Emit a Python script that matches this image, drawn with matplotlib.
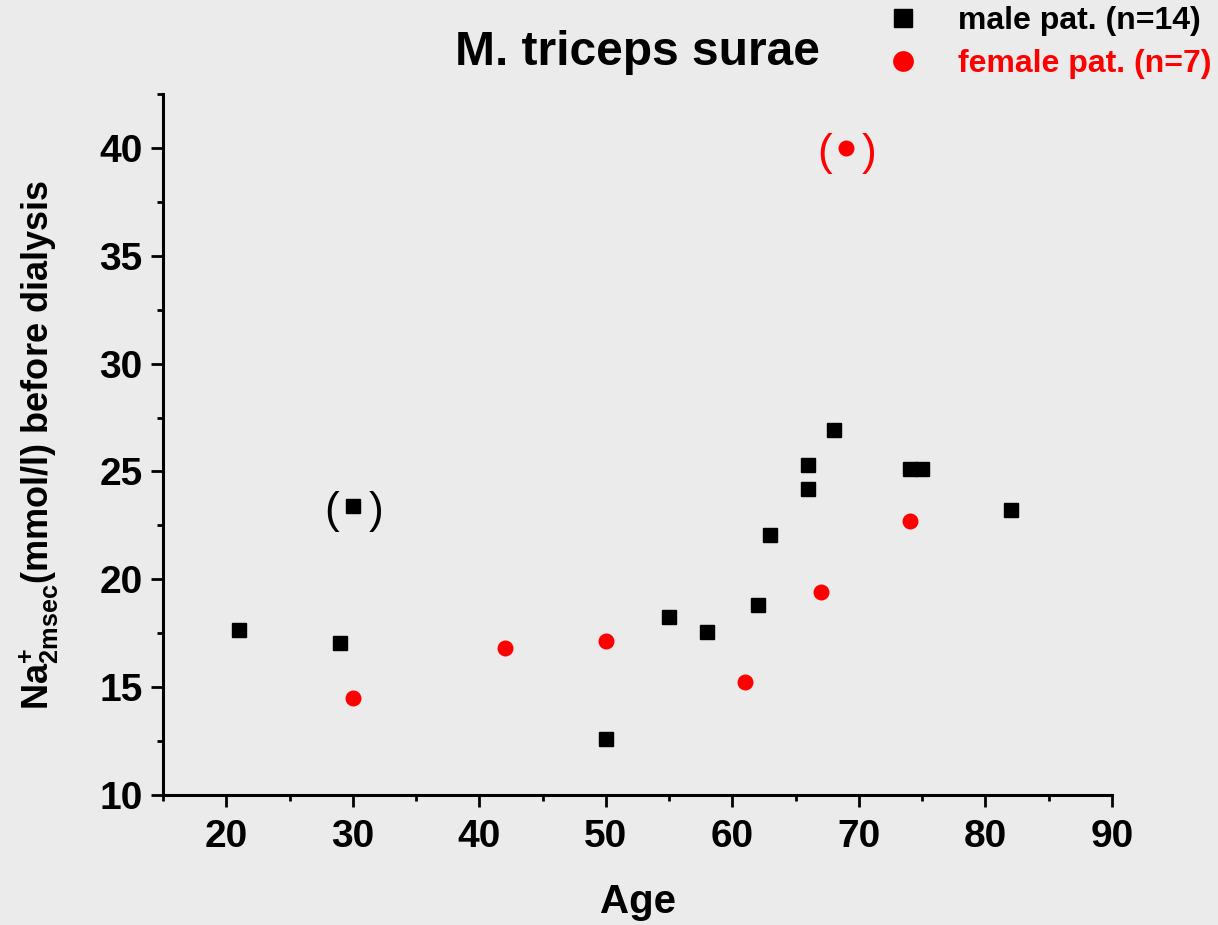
import matplotlib
matplotlib.use("Agg")
import matplotlib.pyplot as plt
from matplotlib.ticker import MultipleLocator

# male patients
male_age = [21, 29, 30, 50, 55, 58, 62, 63, 66, 66, 68, 74, 75, 82]
male_na = [17.65, 17.05, 23.4, 12.6, 18.25, 17.55, 18.8, 22.05, 25.3, 24.2, 26.9, 25.1, 25.1, 23.2]

# female patients
female_age = [30, 42, 50, 61, 67, 69, 74]
female_na = [14.5, 16.8, 17.15, 15.25, 19.4, 40.0, 22.7]

# bracketed (outlier) points
outliers = [(30, 23.4, 'black'), (69, 40.0, 'red')]

plt.rcParams['font.family'] = ['Liberation Sans', 'DejaVu Sans']
plt.rcParams['font.weight'] = 'bold'
plt.rcParams['mathtext.fontset'] = 'custom'
plt.rcParams['mathtext.rm'] = 'Liberation Sans:bold'
plt.rcParams['mathtext.it'] = 'Liberation Sans:bold'
plt.rcParams['mathtext.bf'] = 'Liberation Sans:bold'

bg = '#ebebeb'
fig = plt.figure(figsize=(12.18, 9.25), dpi=100, facecolor=bg)
ax = fig.add_axes([0.1338, 0.1405, 0.7792, 0.7579], facecolor=bg)

ax.plot(male_age, male_na, 's', color='black', markersize=10, label='male pat. (n=14)')
ax.plot(female_age, female_na, 'o', color='red', markersize=11.5, markeredgewidth=0,
        label='female pat. (n=7)')

for x, y, c in outliers:
    ax.annotate('(', (x, y), xytext=(-15.5, -4), textcoords='offset points',
                ha='center', va='center', fontsize=32, fontweight='normal', color=c)
    ax.annotate(')', (x, y), xytext=(16.5, -4), textcoords='offset points',
                ha='center', va='center', fontsize=32, fontweight='normal', color=c)

ax.set_xlim(15, 90)
ax.set_ylim(10, 42.5)
ax.xaxis.set_major_locator(MultipleLocator(10))
ax.xaxis.set_minor_locator(MultipleLocator(5))
ax.yaxis.set_major_locator(MultipleLocator(5))
ax.yaxis.set_minor_locator(MultipleLocator(2.5))

for s in ['top', 'right']:
    ax.spines[s].set_visible(False)
for s in ['left', 'bottom']:
    ax.spines[s].set_linewidth(2.2)

ax.tick_params(which='major', length=8.5, width=2, labelsize=28)
ax.tick_params(which='minor', length=4.5, width=2)
ax.tick_params(axis='x', which='major', pad=9)
ax.tick_params(axis='y', which='major', pad=6)
for lab in ax.get_xticklabels() + ax.get_yticklabels():
    lab.set_fontweight('bold')

ax.set_title('M. triceps surae', fontsize=34.5, fontweight='bold', pad=21)
ax.set_xlabel('Age', fontsize=29, fontweight='bold', labelpad=20)
ax.set_ylabel(r'Na$^{+}_{2msec}$(mmol/l) before dialysis', fontsize=26,
              fontweight='bold', labelpad=28)

leg = fig.legend(loc='upper right', bbox_to_anchor=(0.997, 0.9965), frameon=False,
                 fontsize=23, labelcolor=['black', 'red'], handletextpad=0.7,
                 labelspacing=0.4, markerscale=1.3, borderpad=0.1,
                 borderaxespad=0)
for t in leg.get_texts():
    t.set_fontweight('bold')

fig.savefig('out.png', dpi=100, facecolor=bg)
